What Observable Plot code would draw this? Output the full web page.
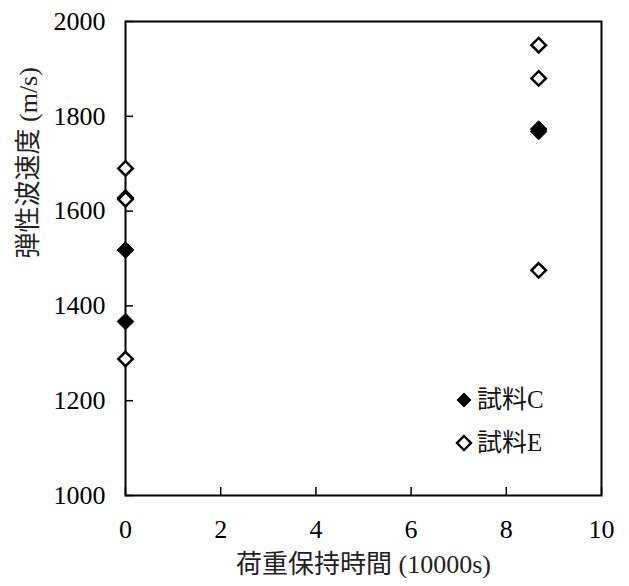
<!DOCTYPE html>
<html><head><meta charset="utf-8">
<script src="https://cdn.jsdelivr.net/npm/d3@7"></script>
<script src="https://cdn.jsdelivr.net/npm/@observablehq/plot@0.6"></script>
<style>
body{margin:0;background:#fff;}
#wrap{position:relative;width:629px;height:586px;}
#wrap svg, #wrap svg text{font-family:'Liberation Serif','Noto Sans CJK JP',serif !important;}
#wrap svg text{font-size:26px !important;}
.leg{position:absolute;font-family:'Liberation Serif','Noto Sans CJK JP',serif;font-size:25px;line-height:30px;height:30px;display:flex;align-items:center;color:#111;}
.leg svg{margin-right:4px;}
</style>
</head><body>
<div id="wrap"></div>
<script>
// Series C (filled)
const timeC = [0, 0, 8.68, 8.68];
const speedC = [1518, 1367, 1768, 1773];
// Series E (open)
const timeE = [0, 0, 0, 0, 8.68, 8.68, 8.68];
const speedE = [1690, 1628, 1625, 1288, 1950, 1880, 1475];
const seriesNames = ["試料C", "試料E"];
const xTicks = [0, 2, 4, 6, 8, 10];
const yTicks = [1000, 1200, 1400, 1600, 1800, 2000];

const dataC = timeC.map((t, i) => ({t, v: speedC[i]}));
const dataE = timeE.map((t, i) => ({t, v: speedE[i]}));

const plot = Plot.plot({
  width: 629, height: 586,
  marginLeft: 125, marginRight: 28, marginTop: 21, marginBottom: 91,
  style: {color: "#000", background: "#fff"},
  x: {domain: [0, 10], ticks: xTicks, label: null},
  y: {domain: [1000, 2000], ticks: yTicks, label: null},
  marks: [
    Plot.axisX({ticks: xTicks, tickSize: -8, strokeWidth: 1.5, text: null, label: null}),
    Plot.axisY({ticks: yTicks, tickSize: -8, strokeWidth: 1.5, text: null, label: null}),
    Plot.text(xTicks, {x: d => d, text: d => String(d), frameAnchor: "bottom", dy: 42, fontSize: 26, fill: "#000"}),
    Plot.text(yTicks, {y: d => d, text: d => String(d), frameAnchor: "left", dx: -20, textAnchor: "end", fontSize: 26, fill: "#000"}),
    Plot.frame({stroke: "#000", strokeWidth: 2}),
    Plot.dot(dataE, {x: "t", y: "v", symbol: "diamond2", r: 6.5, fill: "#fff", stroke: "#000", strokeWidth: 2.5}),
    Plot.dot(dataC, {x: "t", y: "v", symbol: "diamond2", r: 7.5, fill: "#000", stroke: "#000", strokeWidth: 1}),
    Plot.text(["荷重保持時間 (10000s)"], {frameAnchor: "bottom", dy: 77, fontSize: 26, fill: "#222"}),
    Plot.text(["弾性波速度 (m/s)"], {frameAnchor: "left", dx: -97, rotate: -90, fontSize: 26, fill: "#222"})
  ]
});
const wrap = document.getElementById("wrap");
wrap.appendChild(plot);

function addLegend(name, filled, centerY) {
  const d = document.createElement("div");
  d.className = "leg";
  d.style.left = "455px"; d.style.top = (centerY - 15) + "px";
  d.innerHTML = `<svg width="18" height="18" viewBox="-9 -9 18 18"><path d="M0,-7L7,0L0,7L-7,0Z" fill="${filled ? "#000" : "#fff"}" stroke="#000" stroke-width="${filled ? 1 : 2.4}"/></svg><span>${name}</span>`;
  wrap.appendChild(d);
}
addLegend(seriesNames[0], true, 400);
addLegend(seriesNames[1], false, 443);
</script>
</body></html>
